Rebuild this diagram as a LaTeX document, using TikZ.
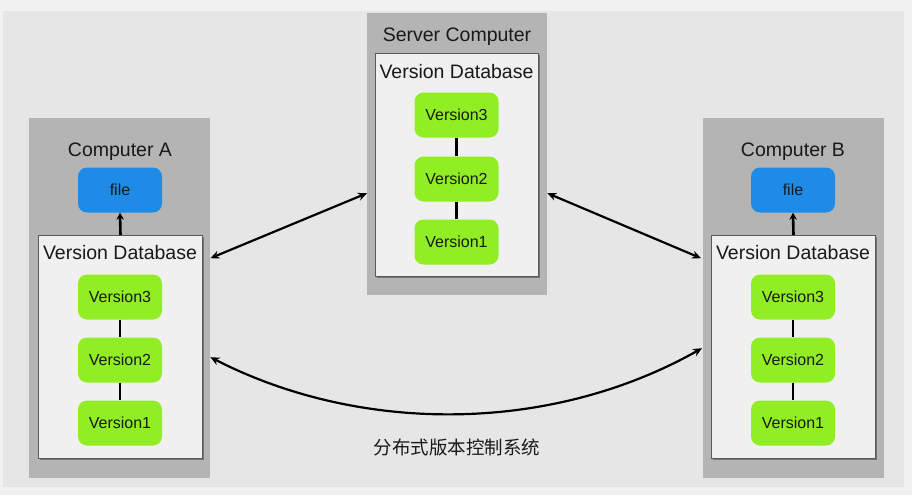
\documentclass[tikz,border=0pt]{standalone}
\usepackage{fontspec}
\setmainfont{Liberation Sans}
\newfontfamily\cjk{Noto Sans CJK SC}
\usetikzlibrary{arrows.meta,shadows}
\definecolor{bgout}{RGB}{241,241,241}
\definecolor{bgin}{RGB}{230,230,230}
\definecolor{boxgray}{RGB}{180,180,180}
\definecolor{dbfill}{RGB}{240,240,240}
\definecolor{verg}{RGB}{145,238,36}
\definecolor{fileb}{RGB}{30,140,230}
\definecolor{txt}{RGB}{25,25,25}
\begin{document}
\begin{tikzpicture}[x=1pt,y=-1pt,
  machine/.style={fill=boxgray, draw=none, inner sep=0pt, minimum width=181pt, anchor=north west},
  dbbox/.style={fill=dbfill, draw=black!65, line width=1pt, inner sep=0pt, anchor=north west,
    minimum width=164pt, minimum height=223pt,
    drop shadow={shadow xshift=1.3pt, shadow yshift=-1.3pt, fill=black!60, opacity=0.8}},
  title/.style={text=txt, inner sep=0pt, font=\fontsize{19.5}{23}\selectfont},
  ver/.style={fill=verg, rounded corners=9pt, minimum width=84pt, minimum height=45pt,
    inner sep=0pt, text=txt, font=\fontsize{16}{19}\selectfont},
  filebox/.style={fill=fileb, rounded corners=9pt, minimum width=84pt, minimum height=45pt,
    inner sep=0pt, text=txt, font=\fontsize{16}{19}\selectfont},
  link/.style={line width=2.6pt, black},
  twoway/.style={line width=2.2pt, black, {Stealth[length=9pt,width=8pt]}-{Stealth[length=9pt,width=8pt]}},
  upward/.style={line width=2.6pt, black, -{Stealth[length=7pt,width=7.5pt]}}
]
\useasboundingbox (0,0) rectangle (912,495);
\fill[bgout] (0,0) rectangle (912,495);
\fill[bgin] (3,11) rectangle (904,487);

% machines
\node[machine, minimum height=360pt] (compA) at (29,118) {};
\node[machine, minimum height=282pt, minimum width=180pt] (srv) at (367,13) {};
\node[machine, minimum height=360pt] (compB) at (703,118) {};

% titles
\node[title] (tA) at (120,152) {Computer A};
\node[title] (tS) at (457,37) {Server Computer};
\node[title] (tB) at (793,152) {Computer B};

% databases
\node[dbbox] (dbA) at (38,235) {};
\node[dbbox, minimum width=163pt] (dbS) at (375,53) {};
\node[dbbox] (dbB) at (711,235) {};
\node[title] (dbAt) at (120,253) {Version Database};
\node[title] (dbSt) at (456.5,72) {Version Database};
\node[title] (dbBt) at (793,253) {Version Database};

% files
\node[filebox] (fA) at (120,190) {file};
\node[filebox] (fB) at (793,190) {file};

% versions A
\node[ver] (a3) at (120,297) {Version3};
\node[ver] (a2) at (120,360) {Version2};
\node[ver] (a1) at (120,423) {Version1};
% versions server
\node[ver] (s3) at (456.5,115) {Version3};
\node[ver] (s2) at (456.5,179) {Version2};
\node[ver] (s1) at (456.5,242) {Version1};
% versions B
\node[ver] (b3) at (793,297) {Version3};
\node[ver] (b2) at (793,360) {Version2};
\node[ver] (b1) at (793,423) {Version1};

\draw[link] (a3) -- (a2);
\draw[link] (a2) -- (a1);
\draw[link] (s3) -- (s2);
\draw[link] (s2) -- (s1);
\draw[link] (b3) -- (b2);
\draw[link] (b2) -- (b1);

\draw[upward] (dbA.north) -- (fA.south);
\draw[upward] (dbB.north) -- (fB.south);

% sync arrows
\draw[twoway] ([yshift=40pt]compA.east) -- ([yshift=-39pt]srv.west);
\draw[twoway] ([yshift=-39pt]srv.east) -- ([yshift=40pt,xshift=-2pt]compB.west);
\draw[twoway] ([yshift=-59pt]compA.east) .. controls (360,434) and (550,434) .. ([yshift=-50pt,xshift=-1pt]compB.west);

\node[text=txt, font=\cjk\fontsize{18.5}{22}\selectfont] (cap) at (457,447) {分布式版本控制系统};
\end{tikzpicture}
\end{document}
